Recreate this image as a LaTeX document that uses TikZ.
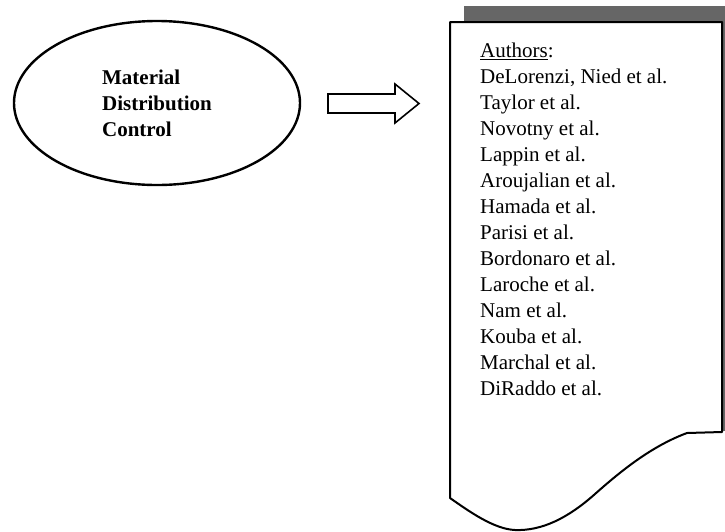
\documentclass[tikz,border=0pt]{standalone}
\usepackage{fontspec}
\setmainfont{Liberation Serif}
\usetikzlibrary{shapes.geometric}
\begin{document}
\begin{tikzpicture}[x=1pt, y=-1pt,
  oval/.style={ellipse, draw, line width=2.4pt, minimum width=286pt,
    minimum height=164pt, inner sep=0pt, align=left,
    font=\fontsize{21}{26}\selectfont\bfseries},
  blockarrow/.style={draw, line width=1.6pt, line join=miter},
  docshadow/.style={fill=black!60},
  docpage/.style={draw, fill=white, line width=2pt, line join=round},
  authorline/.style={anchor=base west, inner sep=0pt,
    font=\fontsize{21}{26}\selectfont}]
\useasboundingbox (0,0) rectangle (725,531);

% topic oval
\node[oval] (mdc) at (157,103) {Material\\Distribution\\Control};

% hollow block arrow pointing to the list
\draw[blockarrow] (328,94) -- (395,94) -- (395,84) -- (419,103.5)
  -- (395,123) -- (395,113) -- (328,113) -- cycle;

% document page with its shadow along the top and right
\fill[docshadow] (464,6) rectangle (725,431);
\draw[docpage] (450,22) -- (722,22) -- (722,432) -- (687,433)
  .. controls (652,446) and (622,470) .. (595,494)
  .. controls (568,518) and (542,531) .. (515,530)
  .. controls (494,529) and (470,512) .. (450,498) -- cycle;

% list of authors
\node[authorline] (hdr) at (480,57.5) {\underline{Authors}:};
\foreach \name [count=\i] in {{DeLorenzi, Nied et al.}, Taylor et al.,
    Novotny et al., Lappin et al., Aroujalian et al., Hamada et al.,
    Parisi et al., Bordonaro et al., Laroche et al., Nam et al.,
    Kouba et al., Marchal et al., DiRaddo et al.}
  \node[authorline] (au\i) at (480,{57.5+26*\i}) {\name};
\end{tikzpicture}
\end{document}
